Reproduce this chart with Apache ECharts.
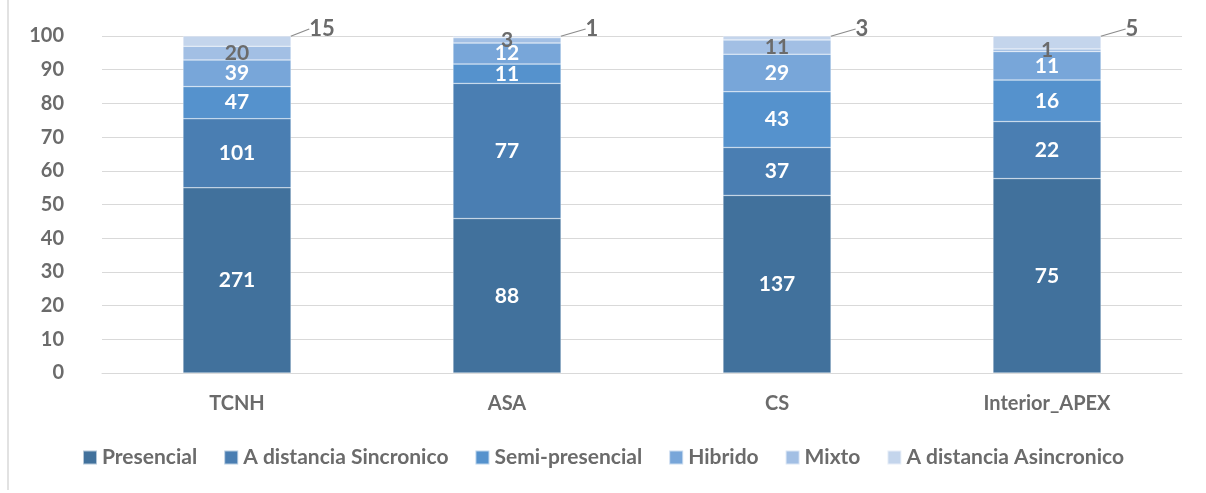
<!DOCTYPE html>
<html><head><meta charset="utf-8">
<script src="https://cdn.jsdelivr.net/npm/echarts@6/dist/echarts.min.js"></script>
<style>html,body{margin:0;padding:0;background:#fff}#c{width:1206px;height:493px}</style>
</head><body><div id="c"></div>
<script>
const categories = ['TCNH', 'ASA', 'CS', 'Interior_APEX'];
const seriesNames = ['Presencial', 'A distancia Sincronico', 'Semi-presencial', 'Hibrido', 'Mixto', 'A distancia Asincronico'];
const presencial = [271, 88, 137, 75];
const sincronico = [101, 77, 37, 22];
const semipresencial = [47, 11, 43, 16];
const hibrido = [39, 12, 29, 11];
const mixto = [20, 3, 11, 1];
const asincronico = [15, 1, 3, 5];
const yTicks = [0, 10, 20, 30, 40, 50, 60, 70, 80, 90, 100];

const allSeries = [presencial, sincronico, semipresencial, hibrido, mixto, asincronico];
const colors = ['#41719C', '#4A7EB2', '#5592CD', '#78A6D9', '#A2BFE4', '#C4D5EC'];
const totals = categories.map((_, i) => allSeries.reduce((s, a) => s + a[i], 0));

const FONT = 'Lato';
const GRAY = '#6b6b6b';
const series = allSeries.map((arr, si) => {
  const s = {
    name: seriesNames[si],
    type: 'bar',
    stack: 'total',
    barWidth: 108,
    itemStyle: { color: colors[si], borderColor: 'rgba(255,255,255,0.6)', borderWidth: 0.5 },
    data: arr.map((v, i) => ({ value: v / totals[i] * 100, raw: v })),
    label: {
      show: true,
      position: 'inside',
      formatter: p => String(p.data.raw),
      color: si >= 4 ? GRAY : '#ffffff',
      fontFamily: FONT, fontWeight: 'bold', fontSize: 21
    },
    emphasis: { disabled: true }
  };
  if (si === 5) {
    s.label.position = 'top';
    s.label.distance = 0;
    s.label.fontSize = 22;
    s.labelLayout = { dx: 85, dy: 4 };
    s.labelLine = { show: true, lineStyle: { color: '#8c8c8c', width: 1.3 }, length2: 0 };
  }
  return s;
});

const chart = echarts.init(document.getElementById('c'));
chart.setOption({
  animation: false,
  color: colors,
  grid: { left: 102, right: 24, top: 36, bottom: 120 },
  xAxis: {
    type: 'category', data: categories,
    axisLine: { lineStyle: { color: '#d9d9d9', width: 1 } },
    axisTick: { show: false },
    axisLabel: { color: GRAY, fontFamily: FONT, fontWeight: 'bold', fontSize: 20, margin: 21 }
  },
  yAxis: {
    type: 'value', min: 0, max: 100, interval: 10,
    axisLine: { show: false }, axisTick: { show: false },
    splitLine: { lineStyle: { color: '#d9d9d9', width: 1 } },
    axisLabel: {
      color: GRAY, fontFamily: FONT, fontWeight: 'bold', fontSize: 20, margin: 38,
      formatter: v => yTicks.includes(v) ? String(v) : ''
    }
  },
  legend: {
    bottom: 20, left: 'center',
    itemWidth: 14, itemHeight: 14, itemGap: 26,
    icon: 'rect',
    textStyle: { color: GRAY, fontFamily: FONT, fontWeight: 'bold', fontSize: 21, padding: [0, 0, 0, 0] },
    data: seriesNames
  },
  graphic: [{ type: 'line', shape: { x1: 8, y1: 0, x2: 8, y2: 490 }, style: { stroke: '#d9d9d9', lineWidth: 1.5 } }],
  series: series
});
</script></body></html>
